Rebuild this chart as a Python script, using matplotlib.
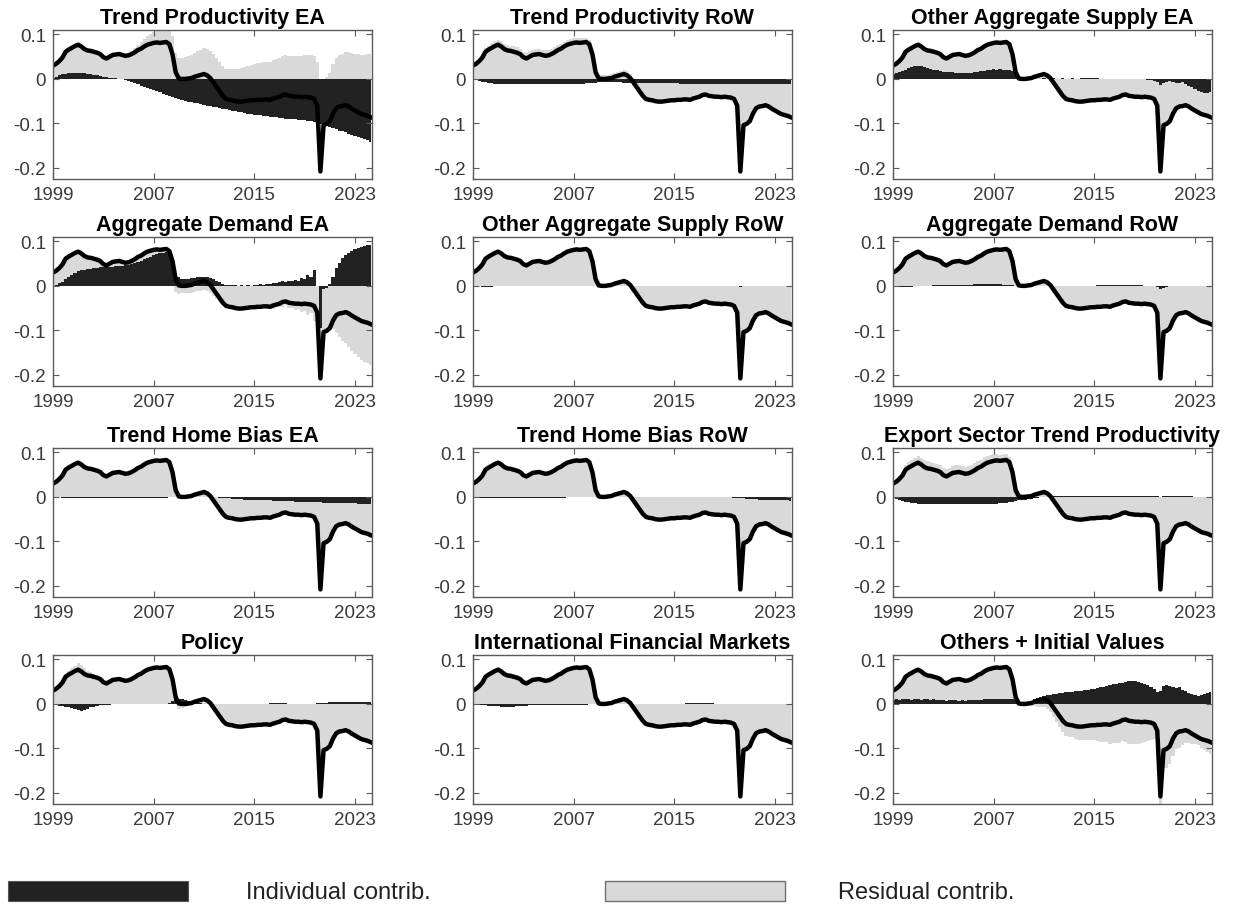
import numpy as np
import matplotlib
matplotlib.use("Agg")
import matplotlib.pyplot as plt
from matplotlib.patches import Rectangle

plt.rcParams['font.family'] = ['Liberation Sans', 'DejaVu Sans']

# quarterly, 1999Q1 .. 2024Q2
t = np.arange(1999, 2024.5, 0.25)

# observed series (black line), same in every panel
line = [
    0.030, 0.034, 0.040, 0.048,
    0.061, 0.066, 0.070, 0.074,
    0.077, 0.073, 0.067, 0.064,
    0.063, 0.061, 0.059, 0.056,
    0.049, 0.046, 0.050, 0.054,
    0.055, 0.056, 0.054, 0.052,
    0.053, 0.056, 0.060, 0.065,
    0.068, 0.073, 0.077, 0.079,
    0.081, 0.082, 0.081, 0.082,
    0.083, 0.078, 0.055, 0.015,
    0.001, 0.000, 0.000, 0.001,
    0.002, 0.005, 0.007, 0.009,
    0.011, 0.008, 0.002, -0.008,
    -0.018, -0.028, -0.038, -0.045,
    -0.047, -0.048, -0.050, -0.051,
    -0.051, -0.050, -0.049, -0.048,
    -0.048, -0.047, -0.047, -0.046,
    -0.046, -0.047, -0.044, -0.042,
    -0.040, -0.036, -0.035, -0.038,
    -0.039, -0.040, -0.040, -0.041,
    -0.040, -0.041, -0.042, -0.045,
    -0.060, -0.208, -0.104, -0.101,
    -0.095, -0.078, -0.066, -0.062,
    -0.061, -0.059, -0.062, -0.067,
    -0.071, -0.075, -0.079, -0.081,
    -0.083, -0.086,
]

tp_ea = [
    0.002, 0.005, 0.008, 0.010, 0.012, 0.013, 0.014, 0.014,
    0.014, 0.013, 0.013, 0.012, 0.011, 0.009, 0.008, 0.006,
    0.005, 0.004, 0.003, 0.002, 0.001, 0.000, -0.001, -0.002,
    -0.004, -0.007, -0.009, -0.012, -0.015, -0.017, -0.020, -0.022,
    -0.025, -0.028, -0.030, -0.033, -0.035, -0.038, -0.041, -0.043,
    -0.046, -0.048, -0.049, -0.051, -0.052, -0.054, -0.055, -0.057,
    -0.058, -0.060, -0.061, -0.063, -0.064, -0.066, -0.067, -0.068,
    -0.070, -0.071, -0.073, -0.074, -0.075, -0.077, -0.078, -0.079,
    -0.081, -0.082, -0.082, -0.083, -0.084, -0.085, -0.086, -0.086,
    -0.087, -0.088, -0.089, -0.089, -0.090, -0.091, -0.092, -0.093,
    -0.093, -0.094, -0.095, -0.097, -0.099, -0.101, -0.104, -0.106,
    -0.108, -0.111, -0.113, -0.116, -0.118, -0.120, -0.123, -0.125,
    -0.128, -0.130, -0.133, -0.135, -0.138, -0.141,
]

tp_row = [
    -0.001, -0.003, -0.005, -0.007, -0.008, -0.009, -0.010, -0.011,
    -0.011, -0.012, -0.012, -0.012, -0.012, -0.012, -0.012, -0.012,
    -0.012, -0.012, -0.012, -0.012, -0.012, -0.012, -0.012, -0.012,
    -0.012, -0.012, -0.011, -0.011, -0.011, -0.011, -0.011, -0.011,
    -0.011, -0.011, -0.011, -0.011, -0.010, -0.010, -0.009, -0.009,
    -0.008, -0.008, -0.008, -0.008, -0.008, -0.008, -0.008, -0.008,
    -0.009, -0.009, -0.009, -0.009, -0.009, -0.010, -0.010, -0.010,
    -0.010, -0.010, -0.010, -0.010, -0.010, -0.010, -0.010, -0.010,
    -0.010, -0.010, -0.011, -0.011, -0.011, -0.011, -0.011, -0.011,
    -0.011, -0.011, -0.011, -0.011, -0.011, -0.011, -0.011, -0.011,
    -0.011, -0.011, -0.011, -0.011, -0.012, -0.012, -0.012, -0.012,
    -0.012, -0.012, -0.012, -0.012, -0.012, -0.012, -0.012, -0.012,
    -0.012, -0.012, -0.012, -0.012, -0.012, -0.012,
]

oas_ea = [
    0.010, 0.013, 0.016, 0.018, 0.020, 0.024, 0.027, 0.029,
    0.030, 0.028, 0.026, 0.024, 0.022, 0.020, 0.019, 0.018,
    0.016, 0.015, 0.016, 0.015, 0.014, 0.013, 0.014, 0.013,
    0.013, 0.014, 0.015, 0.016, 0.017, 0.018, 0.020, 0.021,
    0.022, 0.021, 0.022, 0.021, 0.020, 0.019, 0.018, 0.010,
    0.002, 0.001, 0.000, 0.000, 0.000, 0.001, 0.000, 0.000,
    0.001, 0.000, 0.000, 0.001, 0.000, 0.000, 0.001, 0.000,
    0.000, 0.001, 0.000, 0.000, 0.001, 0.002, 0.002, 0.001,
    0.002, 0.001, 0.000, 0.000, 0.000, -0.001, 0.000, 0.000,
    -0.001, 0.000, 0.000, -0.001, 0.000, -0.001, 0.000, -0.001,
    -0.001, -0.002, -0.002, -0.004, -0.008, -0.013, -0.009, -0.006,
    -0.005, -0.006, -0.009, -0.010, -0.008, -0.011, -0.015, -0.018,
    -0.022, -0.026, -0.029, -0.031, -0.031, -0.030,
]

ad_ea = [
    0.000, 0.003, 0.006, 0.009, 0.015, 0.020, 0.025, 0.030,
    0.033, 0.035, 0.036, 0.037, 0.039, 0.040, 0.041, 0.042,
    0.042, 0.042, 0.042, 0.043, 0.044, 0.045, 0.045, 0.046,
    0.047, 0.049, 0.051, 0.054, 0.057, 0.060, 0.063, 0.066,
    0.069, 0.071, 0.073, 0.075, 0.076, 0.072, 0.050, 0.028,
    0.020, 0.016, 0.015, 0.016, 0.017, 0.018, 0.019, 0.020,
    0.021, 0.020, 0.018, 0.015, 0.011, 0.008, 0.005, 0.003,
    0.002, 0.001, 0.001, 0.000, 0.001, 0.000, 0.001, 0.000,
    0.001, 0.002, 0.004, 0.003, 0.005, 0.004, 0.007, 0.006,
    0.008, 0.011, 0.009, 0.012, 0.010, 0.014, 0.012, 0.018,
    0.016, 0.025, 0.020, 0.035, 0.000, -0.095, -0.006, -0.004,
    0.005, 0.020, 0.040, 0.052, 0.062, 0.070, 0.075, 0.079,
    0.083, 0.086, 0.088, 0.090, 0.091, 0.092,
]

oas_row = [
    0.000, -0.001, -0.001, -0.002, -0.002, -0.002, -0.002, -0.001,
    -0.001, -0.001, 0.000, 0.000, 0.000, 0.000, 0.000, 0.000,
    0.000, 0.000, 0.000, 0.000, 0.000, 0.000, 0.000, 0.000,
    0.000, 0.000, 0.000, 0.000, 0.000, 0.000, 0.000, 0.000,
    0.000, 0.000, 0.000, 0.000, 0.000, 0.000, 0.000, 0.000,
    0.000, 0.000, 0.000, 0.000, 0.000, 0.000, 0.000, 0.000,
    0.000, 0.000, 0.000, 0.000, 0.000, 0.000, 0.000, 0.000,
    0.000, 0.000, 0.000, 0.000, 0.000, 0.000, 0.000, 0.000,
    0.000, 0.000, 0.000, 0.000, 0.000, 0.000, 0.000, 0.000,
    0.000, 0.000, 0.000, 0.000, 0.000, 0.000, 0.000, 0.000,
    0.000, 0.000, 0.000, 0.000, -0.001, -0.003, -0.001, 0.000,
    0.000, 0.000, 0.000, 0.000, 0.000, 0.000, 0.000, 0.000,
    0.000, 0.000, 0.000, 0.000, 0.000, 0.000,
]

ad_row = [
    -0.001, -0.002, -0.003, -0.003, -0.003, -0.002, -0.002, -0.001,
    -0.001, 0.000, 0.000, 0.000, 0.000, 0.001, 0.001, 0.001,
    0.001, 0.002, 0.002, 0.002, 0.002, 0.003, 0.003, 0.003,
    0.003, 0.003, 0.004, 0.004, 0.004, 0.004, 0.004, 0.004,
    0.004, 0.004, 0.004, 0.003, 0.003, 0.002, 0.001, 0.000,
    -0.001, -0.001, -0.001, 0.000, 0.000, 0.000, 0.000, 0.000,
    0.000, 0.000, 0.000, 0.000, 0.000, 0.000, 0.000, 0.000,
    0.000, 0.000, 0.000, 0.000, 0.000, 0.000, 0.000, 0.000,
    0.000, 0.001, 0.001, 0.001, 0.002, 0.002, 0.002, 0.002,
    0.002, 0.002, 0.002, 0.002, 0.002, 0.001, 0.001, 0.001,
    0.000, 0.000, 0.000, -0.001, -0.003, -0.006, -0.004, -0.002,
    -0.001, 0.000, 0.000, 0.000, 0.000, 0.000, 0.000, 0.000,
    0.000, 0.000, 0.000, 0.000, 0.000, 0.000,
]

thb_ea = [
    0.000, -0.001, -0.001, -0.002, -0.002, -0.003, -0.003, -0.003,
    -0.003, -0.003, -0.003, -0.003, -0.003, -0.003, -0.003, -0.003,
    -0.003, -0.003, -0.003, -0.003, -0.003, -0.003, -0.003, -0.003,
    -0.002, -0.002, -0.002, -0.002, -0.002, -0.002, -0.002, -0.002,
    -0.002, -0.002, -0.002, -0.002, -0.002, -0.001, -0.001, -0.001,
    0.000, 0.000, 0.000, 0.000, 0.000, 0.000, 0.000, 0.000,
    0.000, 0.000, 0.000, 0.000, -0.001, -0.002, -0.002, -0.003,
    -0.003, -0.004, -0.004, -0.005, -0.005, -0.006, -0.006, -0.006,
    -0.007, -0.007, -0.007, -0.008, -0.008, -0.008, -0.009, -0.009,
    -0.009, -0.010, -0.010, -0.010, -0.010, -0.011, -0.011, -0.011,
    -0.011, -0.012, -0.012, -0.012, -0.012, -0.012, -0.013, -0.013,
    -0.013, -0.013, -0.013, -0.014, -0.014, -0.014, -0.014, -0.014,
    -0.014, -0.015, -0.015, -0.015, -0.015, -0.015,
]

thb_row = [
    -0.001, -0.001, -0.002, -0.002, -0.002, -0.002, -0.002, -0.002,
    -0.002, -0.002, -0.002, -0.002, -0.002, -0.002, -0.002, -0.002,
    -0.002, -0.002, -0.002, -0.002, -0.002, -0.002, -0.002, -0.002,
    -0.002, -0.002, -0.002, -0.002, -0.002, -0.002, -0.001, -0.001,
    -0.001, -0.001, -0.001, -0.001, -0.001, -0.001, 0.000, 0.000,
    0.000, 0.000, 0.000, 0.000, 0.000, 0.000, 0.000, 0.000,
    0.000, 0.000, 0.000, 0.000, 0.000, 0.000, 0.000, 0.000,
    0.000, 0.000, 0.000, 0.000, 0.000, 0.000, 0.000, 0.000,
    0.000, 0.000, 0.000, 0.000, 0.000, 0.000, 0.000, 0.000,
    0.000, 0.000, 0.000, 0.000, 0.000, 0.000, 0.000, 0.000,
    0.000, -0.001, -0.001, -0.002, -0.002, -0.003, -0.003, -0.004,
    -0.004, -0.005, -0.005, -0.006, -0.006, -0.006, -0.007, -0.007,
    -0.007, -0.008, -0.008, -0.008, -0.008, -0.009,
]

estp = [
    -0.002, -0.004, -0.007, -0.009, -0.011, -0.012, -0.013, -0.014,
    -0.015, -0.015, -0.016, -0.016, -0.016, -0.016, -0.016, -0.016,
    -0.016, -0.016, -0.016, -0.016, -0.016, -0.016, -0.016, -0.016,
    -0.016, -0.016, -0.016, -0.016, -0.016, -0.016, -0.016, -0.016,
    -0.015, -0.015, -0.014, -0.014, -0.013, -0.012, -0.011, -0.010,
    -0.008, -0.007, -0.006, -0.005, -0.004, -0.003, -0.002, -0.001,
    0.000, 0.000, 0.001, 0.001, 0.001, 0.002, 0.002, 0.002,
    0.002, 0.002, 0.003, 0.003, 0.003, 0.003, 0.003, 0.003,
    0.003, 0.003, 0.003, 0.003, 0.003, 0.003, 0.003, 0.003,
    0.003, 0.003, 0.003, 0.003, 0.003, 0.003, 0.003, 0.003,
    0.003, 0.003, 0.002, 0.002, 0.001, 0.000, 0.001, 0.001,
    0.001, 0.001, 0.001, 0.001, 0.001, 0.001, 0.001, 0.001,
    0.000, 0.000, 0.000, 0.000, 0.000, 0.000,
]

policy = [
    -0.002, -0.003, -0.004, -0.005, -0.006, -0.008, -0.010, -0.012,
    -0.014, -0.015, -0.013, -0.011, -0.008, -0.006, -0.004, -0.003,
    -0.002, -0.002, -0.002, -0.001, -0.001, -0.001, -0.001, -0.001,
    -0.001, 0.000, 0.000, -0.001, 0.000, 0.000, 0.000, 0.000,
    -0.001, 0.000, 0.000, 0.000, 0.000, 0.002, 0.006, 0.010,
    0.012, 0.010, 0.008, 0.006, 0.005, 0.003, 0.002, 0.001,
    0.000, 0.000, 0.000, 0.000, 0.000, 0.000, 0.000, 0.000,
    0.000, 0.000, 0.000, 0.000, 0.000, 0.000, 0.000, 0.000,
    0.000, 0.000, 0.000, 0.000, 0.000, 0.001, 0.001, 0.001,
    0.001, 0.001, 0.001, 0.000, 0.000, 0.000, 0.000, 0.000,
    0.000, 0.000, 0.000, 0.000, 0.001, 0.002, 0.003, 0.003,
    0.004, 0.004, 0.005, 0.005, 0.005, 0.005, 0.005, 0.005,
    0.005, 0.005, 0.005, 0.005, 0.005, 0.005,
]

ifm = [
    -0.001, -0.002, -0.002, -0.003, -0.003, -0.004, -0.004, -0.005,
    -0.005, -0.006, -0.006, -0.006, -0.006, -0.006, -0.005, -0.005,
    -0.004, -0.004, -0.003, -0.003, -0.002, -0.002, -0.002, -0.002,
    -0.002, -0.002, -0.002, -0.002, -0.002, -0.002, -0.002, -0.002,
    -0.002, -0.002, -0.002, -0.002, -0.002, -0.001, -0.001, 0.000,
    0.000, 0.000, 0.000, 0.000, 0.000, 0.000, 0.000, 0.000,
    0.000, 0.000, 0.000, 0.000, 0.000, 0.000, 0.000, 0.000,
    0.000, 0.000, 0.000, 0.000, 0.000, 0.000, 0.000, 0.000,
    0.000, 0.000, 0.000, 0.000, 0.001, 0.001, 0.001, 0.001,
    0.001, 0.001, 0.001, 0.001, 0.001, 0.000, 0.000, 0.000,
    0.000, 0.000, 0.000, 0.000, 0.000, 0.000, 0.000, 0.000,
    0.000, 0.000, 0.000, 0.000, 0.000, 0.000, 0.000, 0.000,
    0.000, 0.000, 0.000, 0.000, 0.000, 0.000,
]

others = [
    0.009, 0.010, 0.008, 0.011, 0.010, 0.012, 0.009, 0.011,
    0.010, 0.009, 0.011, 0.010, 0.009, 0.010, 0.008, 0.009,
    0.008, 0.007, 0.009, 0.008, 0.008, 0.007, 0.008, 0.007,
    0.008, 0.009, 0.008, 0.009, 0.009, 0.010, 0.011, 0.010,
    0.011, 0.012, 0.011, 0.012, 0.011, 0.012, 0.010, 0.008,
    0.002, 0.001, 0.003, 0.005, 0.007, 0.010, 0.013, 0.015,
    0.017, 0.019, 0.020, 0.022, 0.023, 0.024, 0.025, 0.026,
    0.027, 0.027, 0.028, 0.030, 0.030, 0.031, 0.032, 0.033,
    0.034, 0.036, 0.038, 0.039, 0.040, 0.042, 0.044, 0.045,
    0.047, 0.048, 0.050, 0.051, 0.052, 0.051, 0.049, 0.047,
    0.045, 0.042, 0.038, 0.034, 0.026, 0.030, 0.040, 0.042,
    0.040, 0.038, 0.036, 0.037, 0.032, 0.028, 0.025, 0.022,
    0.019, 0.018, 0.021, 0.022, 0.025, 0.027,
]

titles = [
    "Trend Productivity EA", "Trend Productivity RoW", "Other Aggregate Supply EA",
    "Aggregate Demand EA", "Other Aggregate Supply RoW", "Aggregate Demand RoW",
    "Trend Home Bias EA", "Trend Home Bias RoW", "Export Sector Trend Productivity",
    "Policy", "International Financial Markets", "Others + Initial Values",
]
contribs = [tp_ea, tp_row, oas_ea, ad_ea, oas_row, ad_row,
            thb_ea, thb_row, estp, policy, ifm, others]

xticks = [1999, 2007, 2015, 2023]
yticks = [-0.2, -0.1, 0, 0.1]
ylabels = ["-0.2", "-0.1", "0", "0.1"]

DARK = "#222222"
LIGHT = "#d9d9d9"
AXC = "#5a5a5a"
TXT = "#3a3a3a"

fig = plt.figure(figsize=(12.38, 9.12), dpi=100)

lefts = [0.0428, 0.382, 0.7213]
bottoms = [0.8026, 0.5757, 0.3443, 0.1173]
w, h = 0.2577, 0.1634

y = np.array(line)
for k, (title, ind) in enumerate(zip(titles, contribs)):
    r, c = divmod(k, 3)
    ax = fig.add_axes([lefts[c], bottoms[r], w, h])
    ind = np.array(ind)
    res = y - ind
    # stacked like a bar chart: same-sign parts stack, opposite signs start at 0
    ipos = np.maximum(ind, 0)
    ineg = np.minimum(ind, 0)
    lo = np.where(res >= 0, ipos, ineg + res)
    hi = np.where(res >= 0, ipos + res, ineg)
    ax.fill_between(t, lo, hi, step='mid', color=LIGHT, lw=0)
    ax.fill_between(t, 0, ind, step='mid', color=DARK, lw=0)
    ax.plot(t, y, color='black', lw=3.2, solid_joinstyle='round')

    ax.set_xlim(1999, 2024.35)
    ax.set_ylim(-0.225, 0.11)
    ax.set_xticks(xticks)
    ax.set_xticklabels([str(v) for v in xticks])
    ax.set_yticks(yticks)
    ax.set_yticklabels(ylabels)
    ax.tick_params(direction='in', top=True, right=True, length=4, width=0.8,
                   color=AXC, labelcolor=TXT, labelsize=13.5, pad=5)
    for s in ax.spines.values():
        s.set_color(AXC)
        s.set_linewidth(1.0)
    ax.set_title(title, fontsize=15.5, fontweight='bold', pad=5)

# legend along the bottom
fig.add_artist(Rectangle((8 / 1238, 10 / 912), 180 / 1238, 20 / 912,
                         transform=fig.transFigure, facecolor=DARK, edgecolor='#555555', lw=0.8))
fig.text(246 / 1238, 19 / 912, "Individual contrib.", fontsize=17, va='center', color='#222222')
fig.add_artist(Rectangle((605 / 1238, 10 / 912), 180 / 1238, 20 / 912,
                         transform=fig.transFigure, facecolor=LIGHT, edgecolor='#707070', lw=1.0))
fig.text(838 / 1238, 19 / 912, "Residual contrib.", fontsize=17, va='center', color='#222222')

fig.savefig("out.png", dpi=100)
